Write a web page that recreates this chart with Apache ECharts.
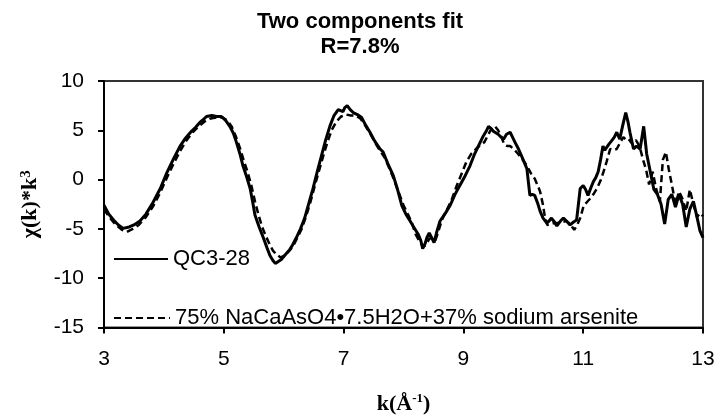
<!DOCTYPE html>
<html>
<head>
<meta charset="utf-8">
<script src="https://cdn.jsdelivr.net/npm/echarts@6/dist/echarts.min.js"></script>
<style>html,body{margin:0;padding:0;background:#fff}#c{width:720px;height:420px}</style>
</head>
<body>
<div id="c"></div>
<script>
var titleLines = ['Two components fit', 'R=7.8%'];
var seriesNames = ['QC3-28', '75% NaCaAsO4•7.5H2O+37% sodium arsenite'];
var xTicks = [3, 5, 7, 9, 11, 13];
var yTicks = [-15, -10, -5, 0, 5, 10];

var kSolid = [3.00,3.08,3.16,3.24,3.32,3.42,3.50,3.60,3.70,3.82,3.94,4.05,4.16,4.27,4.36,4.46,4.53,4.60,4.66,4.71,4.80,4.88,4.96,5.03,5.10,5.16,5.21,5.27,5.32,5.38,5.44,5.48,5.52,5.59,5.66,5.72,5.77,5.82,5.86,5.91,5.96,6.03,6.10,6.15,6.21,6.28,6.35,6.42,6.49,6.56,6.63,6.70,6.77,6.84,6.91,6.95,6.99,7.02,7.06,7.11,7.16,7.23,7.30,7.37,7.44,7.52,7.61,7.66,7.74,7.83,7.90,7.97,8.04,8.11,8.18,8.25,8.29,8.32,8.36,8.39,8.43,8.46,8.51,8.56,8.61,8.70,8.78,8.86,8.94,9.03,9.11,9.18,9.25,9.33,9.38,9.42,9.46,9.50,9.58,9.63,9.67,9.72,9.78,9.82,9.86,9.92,9.97,10.02,10.06,10.11,10.15,10.19,10.24,10.28,10.33,10.39,10.43,10.47,10.52,10.56,10.62,10.67,10.72,10.78,10.84,10.89,10.92,10.95,11.00,11.04,11.08,11.13,11.17,11.21,11.25,11.29,11.33,11.36,11.39,11.43,11.47,11.52,11.56,11.61,11.66,11.71,11.75,11.78,11.84,11.89,11.95,12.01,12.06,12.12,12.18,12.24,12.30,12.36,12.42,12.48,12.54,12.60,12.66,12.72,12.78,12.84,12.90,12.95,13.00];
var ySolid = [-2.6,-3.5,-4.1,-4.6,-4.95,-4.8,-4.6,-4.2,-3.5,-2.3,-0.9,0.7,2.1,3.4,4.2,4.9,5.3,5.8,6.1,6.4,6.5,6.4,6.4,6.0,5.4,4.7,3.8,2.6,1.4,0.3,-0.9,-2.2,-3.6,-4.8,-5.9,-6.9,-7.7,-8.2,-8.5,-8.3,-8.1,-7.6,-7.1,-6.6,-5.9,-5.0,-3.9,-2.4,-0.9,0.8,2.4,4.0,5.4,6.5,7.1,7.0,6.9,7.3,7.5,7.1,6.8,6.6,6.3,5.5,4.8,3.9,3.1,2.8,1.6,0.4,-1.0,-2.6,-3.5,-4.2,-4.9,-5.6,-6.2,-7.0,-6.5,-5.9,-5.4,-5.2,-6.4,-5.2,-4.2,-3.4,-2.6,-1.5,-0.6,0.4,1.4,2.5,3.4,4.4,4.9,5.4,5.2,4.9,4.6,4.3,4.1,4.6,4.8,4.3,3.8,3.1,2.4,1.7,1.1,-1.6,-1.5,-1.6,-2.4,-3.2,-3.9,-4.4,-4.2,-3.9,-4.3,-4.7,-4.2,-3.9,-4.2,-4.6,-4.3,-4.1,-2.5,-0.9,-0.6,-1.0,-1.6,-0.8,-0.2,0.2,0.8,2.0,3.4,3.0,3.1,3.6,3.9,4.3,4.8,4.1,5.5,6.8,5.8,4.8,3.1,3.4,3.1,5.4,2.6,0.8,-1.0,-1.5,-2.5,-4.5,-2.0,-1.5,-2.8,-1.5,-2.5,-4.8,-3.0,-2.2,-3.8,-5.2,-5.9];

var kDash = [3.00,3.10,3.20,3.30,3.38,3.48,3.58,3.70,3.82,3.94,4.05,4.16,4.27,4.38,4.48,4.58,4.68,4.78,4.88,4.98,5.06,5.13,5.20,5.27,5.33,5.40,5.46,5.52,5.58,5.64,5.70,5.76,5.82,5.88,5.95,6.02,6.08,6.15,6.22,6.30,6.38,6.45,6.52,6.59,6.66,6.73,6.80,6.88,6.96,7.04,7.12,7.20,7.28,7.36,7.44,7.52,7.60,7.68,7.76,7.84,7.92,8.00,8.08,8.14,8.20,8.27,8.33,8.38,8.43,8.48,8.53,8.58,8.64,8.72,8.80,8.89,8.97,9.05,9.13,9.21,9.28,9.35,9.41,9.48,9.53,9.58,9.63,9.68,9.73,9.78,9.84,9.90,9.98,10.06,10.13,10.19,10.24,10.28,10.33,10.36,10.40,10.46,10.52,10.58,10.65,10.72,10.78,10.85,10.90,10.95,11.01,11.06,11.12,11.18,11.23,11.29,11.34,11.39,11.45,11.50,11.56,11.62,11.67,11.72,11.76,11.82,11.88,11.94,12.00,12.05,12.10,12.16,12.22,12.28,12.33,12.38,12.43,12.48,12.54,12.60,12.66,12.72,12.78,12.84,12.90,12.95,13.00];
var yDash = [-3.0,-3.9,-4.6,-5.1,-5.3,-5.0,-4.6,-3.8,-2.7,-1.3,0.2,1.6,2.9,4.0,4.8,5.4,5.9,6.2,6.3,6.3,6.0,5.4,4.4,3.2,2.0,0.7,-0.6,-2.2,-3.6,-4.8,-5.7,-6.5,-7.2,-7.6,-7.9,-7.7,-7.3,-6.8,-6.0,-5.0,-3.6,-2.2,-0.6,0.9,2.4,3.8,5.0,5.9,6.4,6.6,6.5,6.5,6.2,5.5,4.7,3.8,3.0,2.3,1.2,0.0,-1.3,-2.6,-3.6,-4.4,-5.5,-6.3,-6.8,-6.6,-6.0,-5.9,-6.2,-5.3,-4.1,-3.1,-2.1,-0.6,0.6,1.8,2.6,3.1,3.5,3.8,4.5,5.3,5.4,5.0,4.4,3.6,3.4,3.4,3.1,2.7,2.1,1.4,0.6,0.1,-0.6,-1.2,-2.6,-3.8,-4.6,-4.5,-4.4,-4.4,-4.3,-4.2,-4.5,-5.1,-4.6,-3.9,-2.6,-2.3,-1.9,-1.4,-0.9,-0.1,0.8,1.8,3.1,3.0,3.1,3.8,4.3,4.0,4.1,3.6,4.0,3.4,2.0,1.0,-0.5,0.8,-1.0,-2.2,2.0,2.8,1.0,-0.5,-2.5,-1.2,-2.0,-3.2,-1.0,-2.5,-3.8,-3.4,-3.7];

function pairs(xs, ys) { return xs.map(function (x, i) { return [x, ys[i]]; }); }

var chart = echarts.init(document.getElementById('c'), null, {renderer: 'canvas'});
var sans = '"Liberation Sans", Arial, sans-serif';
var serif = '"Liberation Serif", "Times New Roman", serif';
var legendText = {fontFamily: sans, fontSize: 22, color: '#000', lineHeight: 24};
chart.setOption({
  animation: false,
  backgroundColor: '#fff',
  title: {
    text: titleLines.join('\n'),
    left: 'center',
    top: 4,
    textStyle: {fontFamily: sans, fontSize: 22, fontWeight: 'bold', color: '#000', lineHeight: 25}
  },
  legend: [
    {data: [seriesNames[0]], left: 113, top: 247, padding: 0, itemWidth: 54, itemHeight: 14, itemGap: 5,
     itemStyle: {opacity: 0, borderWidth: 0}, textStyle: legendText},
    {data: [seriesNames[1]], left: 113, top: 306, padding: 0, itemWidth: 56, itemHeight: 14, itemGap: 4,
     itemStyle: {opacity: 0, borderWidth: 0}, textStyle: legendText}
  ],
  grid: {left: 104, right: 17, top: 81, bottom: 89, show: true, borderColor: '#333', borderWidth: 2, backgroundColor: 'transparent'},
  xAxis: {
    type: 'value', min: xTicks[0], max: xTicks[xTicks.length - 1], interval: 2,
    name: '{b|k(Å}{s|-1}{b|)}', nameLocation: 'middle', nameGap: 65,
    nameTextStyle: {rich: {
      b: {fontFamily: serif, fontSize: 22, fontWeight: 'bold', color: '#000'},
      s: {fontFamily: serif, fontSize: 13, fontWeight: 'bold', color: '#000', verticalAlign: 'top', padding: [0, 0, 10, 0]}
    }},
    axisLine: {onZero: false, lineStyle: {color: '#000', width: 2}},
    axisTick: {show: true, length: 6, lineStyle: {color: '#000', width: 2}},
    axisLabel: {fontFamily: sans, fontSize: 21, color: '#000', margin: 21},
    splitLine: {show: false}
  },
  yAxis: {
    type: 'value', min: yTicks[0], max: yTicks[yTicks.length - 1], interval: 5,
    name: '{b|χ(k)*k}{s|3}', nameLocation: 'middle', nameGap: 62, nameRotate: 90,
    nameTextStyle: {rich: {
      b: {fontFamily: serif, fontSize: 22, fontWeight: 'bold', color: '#000'},
      s: {fontFamily: serif, fontSize: 15, fontWeight: 'bold', color: '#000', verticalAlign: 'top', padding: [0, 0, 8, 0]}
    }},
    axisLine: {show: true, onZero: false, lineStyle: {color: '#000', width: 2}},
    axisTick: {show: true, length: 6, lineStyle: {color: '#000', width: 2}},
    axisLabel: {fontFamily: sans, fontSize: 21, color: '#000', margin: 20},
    splitLine: {show: false}
  },
  series: [
    {name: seriesNames[0], type: 'line', data: pairs(kSolid, ySolid), symbol: 'none', showSymbol: false, smooth: false,
     lineStyle: {color: '#000', width: 3, type: 'solid'}, itemStyle: {color: '#000'}},
    {name: seriesNames[1], type: 'line', data: pairs(kDash, yDash), symbol: 'none', showSymbol: false, smooth: false,
     lineStyle: {color: '#000', width: 2.5, type: [7, 4]}, itemStyle: {color: '#000'}}
  ]
});
</script>
</body>
</html>
